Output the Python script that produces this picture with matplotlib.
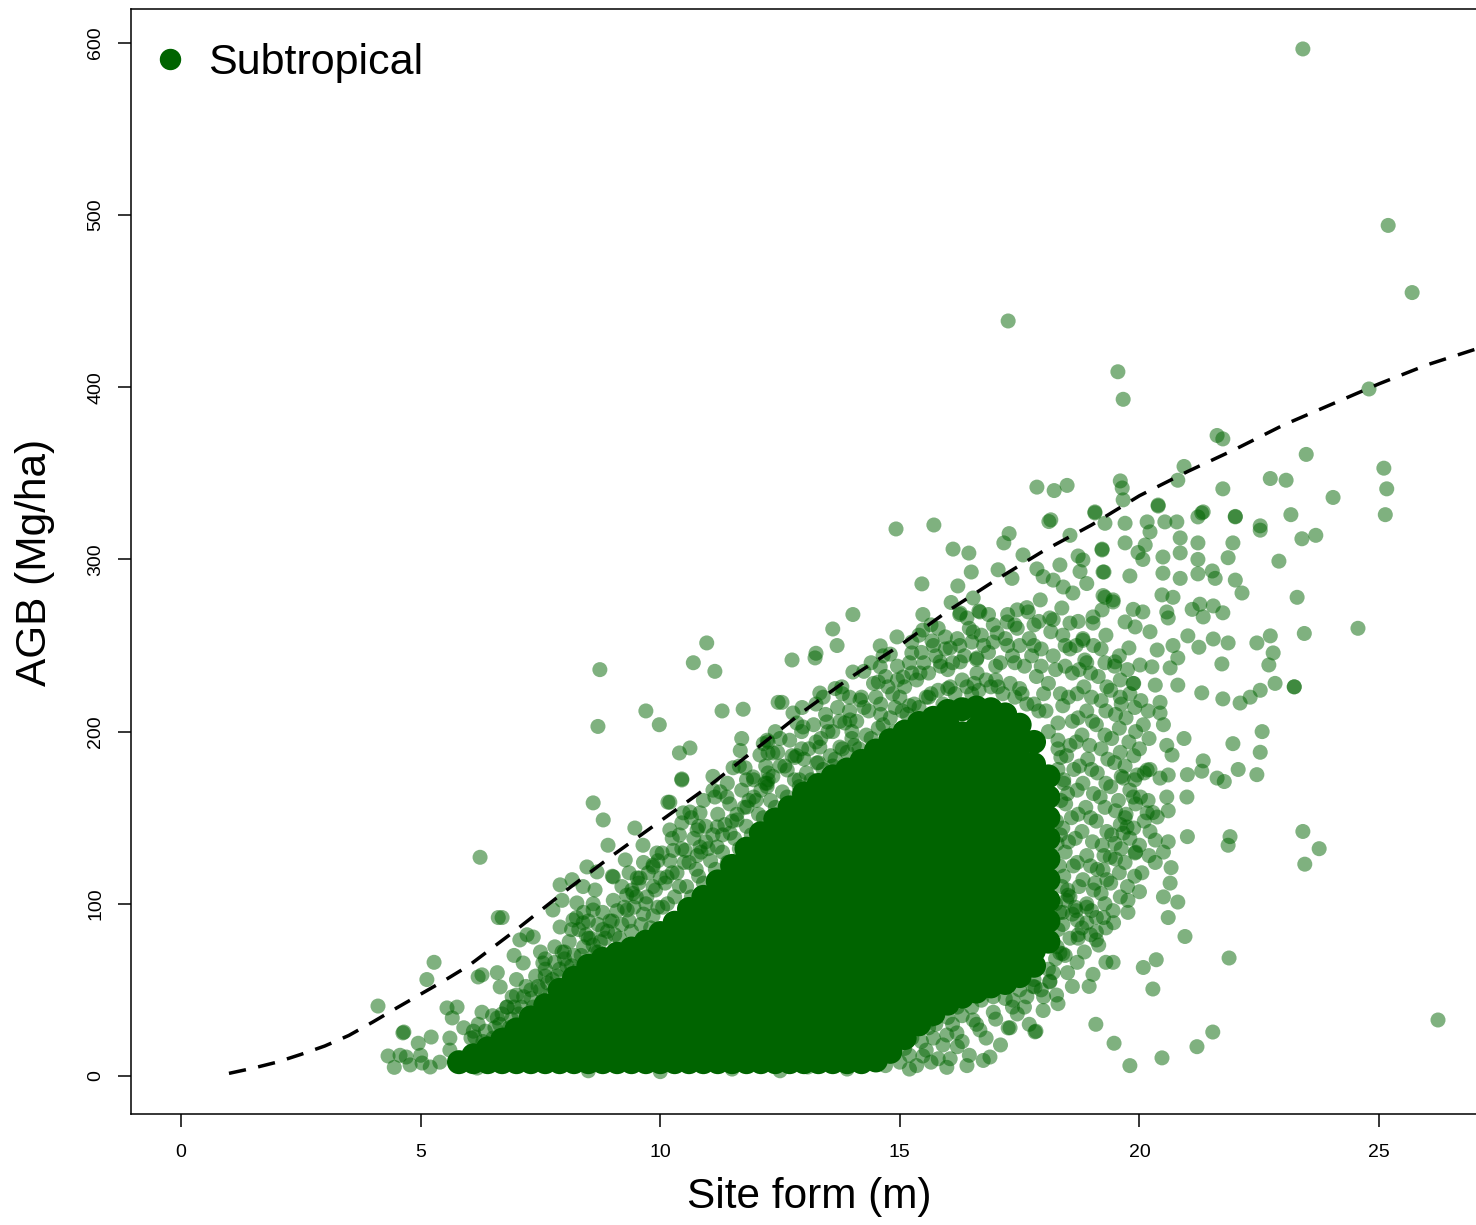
import matplotlib
matplotlib.use("Agg")
import matplotlib.pyplot as plt
from matplotlib.lines import Line2D
import numpy as np

plt.rcParams["font.family"] = ["Liberation Sans", "DejaVu Sans"]

GREEN = "#006400"

# fitted AGB ~ site form curve
fit_x = [1, 1.5, 2, 2.5, 3, 3.5, 4, 4.5, 5, 5.5, 6, 7, 8, 9, 10, 11, 12, 13,
         14, 15, 16, 17, 18, 19, 20, 21, 22, 23, 24, 25, 26, 27]
fit_y = [1.5, 4.5, 8, 12.5, 17.4, 23.5, 31.3, 39.5, 47.5, 55.5, 64, 85, 107,
         128, 148, 168, 190, 212, 232, 250, 270, 288, 305, 320, 337, 351, 364,
         378, 390, 402, 413, 422]

# the packed middle of the cloud, one column of plots per x position
core_cols_x = [5.8, 6.1, 6.4, 6.7, 7.0, 7.3, 7.6, 7.9, 8.2, 8.5, 8.8, 9.1,
               9.4, 9.7, 10.0, 10.3, 10.6, 10.9, 11.2, 11.5, 11.8, 12.1, 12.4,
               12.7, 13.0, 13.3, 13.6, 13.9, 14.2, 14.5, 14.8, 15.1, 15.4,
               15.7, 16.0, 16.3, 16.6, 16.9, 17.2, 17.5, 17.8, 18.1]
core_cols_y = [
    [8],
    [8, 12],
    [8, 16],
    [8, 17, 21],
    [8, 17, 27],
    [8, 17, 26, 34],
    [8, 17, 26, 35, 41],
    [8, 17, 26, 35, 44, 50],
    [8, 17, 26, 35, 44, 53, 57],
    [8, 17, 26, 35, 44, 53, 62, 64],
    [8, 17, 26, 35, 44, 53, 62, 68],
    [8, 17, 26, 35, 44, 53, 62, 71],
    [8, 17, 26, 35, 44, 53, 62, 74],
    [8, 17, 26, 35, 44, 53, 62, 71, 78],
    [8, 17, 26, 35, 44, 53, 62, 71, 83],
    [8, 17, 26, 35, 44, 53, 62, 71, 80, 89],
    [8, 17, 26, 35, 44, 53, 62, 71, 80, 89, 97],
    [8, 17, 26, 35, 44, 53, 62, 71, 80, 89, 98, 104],
    [8, 17, 26, 35, 44, 53, 62, 71, 80, 89, 98, 107, 113],
    [8, 17, 26, 35, 44, 53, 62, 71, 80, 89, 98, 107, 116, 122],
    [8, 17, 26, 35, 44, 53, 62, 71, 80, 89, 98, 107, 116, 125, 132],
    [8, 17, 26, 35, 44, 53, 62, 71, 80, 89, 98, 107, 116, 125, 134, 141],
    [8, 17, 26, 35, 44, 53, 62, 71, 80, 89, 98, 107, 116, 125, 134, 143, 149],
    [8, 17, 26, 35, 44, 53, 62, 71, 80, 89, 98, 107, 116, 125, 134, 143, 152, 156],
    [8, 17, 26, 35, 44, 53, 62, 71, 80, 89, 98, 107, 116, 125, 134, 143, 152, 161, 164],
    [8, 17, 26, 35, 44, 53, 62, 71, 80, 89, 98, 107, 116, 125, 134, 143, 152, 161, 169],
    [8, 17, 26, 35, 44, 53, 62, 71, 80, 89, 98, 107, 116, 125, 134, 143, 152, 161, 170, 174],
    [8, 17, 26, 35, 44, 53, 62, 71, 80, 89, 98, 107, 116, 125, 134, 143, 152, 161, 170, 178],
    [8, 17, 26, 35, 44, 53, 62, 71, 80, 89, 98, 107, 116, 125, 134, 143, 152, 161, 170, 179, 183],
    [9, 18, 27, 36, 45, 54, 63, 72, 81, 90, 99, 108, 117, 126, 135, 144, 153, 162, 171, 180, 189],
    [14, 23, 32, 41, 50, 59, 68, 77, 86, 95, 104, 113, 122, 131, 140, 149, 158, 167, 176, 185, 195],
    [22, 31, 40, 49, 58, 67, 76, 85, 94, 103, 112, 121, 130, 139, 148, 157, 166, 175, 184, 193, 200],
    [30, 39, 48, 57, 66, 75, 84, 93, 102, 111, 120, 129, 138, 147, 156, 165, 174, 183, 192, 205],
    [36, 45, 54, 63, 72, 81, 90, 99, 108, 117, 126, 135, 144, 153, 162, 171, 180, 189, 198, 208],
    [42, 51, 60, 69, 78, 87, 96, 105, 114, 123, 132, 141, 150, 159, 168, 177, 186, 195, 204, 212],
    [46, 55, 64, 73, 82, 91, 100, 109, 118, 127, 136, 145, 154, 163, 172, 181, 190, 199, 213],
    [49, 58, 67, 76, 85, 94, 103, 112, 121, 130, 139, 148, 157, 166, 175, 184, 193, 202, 214],
    [52, 61, 70, 79, 88, 97, 106, 115, 124, 133, 142, 151, 160, 169, 178, 187, 196, 205, 213],
    [54, 63, 72, 81, 90, 99, 108, 117, 126, 135, 144, 153, 162, 171, 180, 189, 198, 210],
    [58, 67, 76, 85, 94, 103, 112, 121, 130, 139, 148, 157, 166, 175, 184, 193, 204],
    [64, 73, 82, 91, 100, 109, 118, 127, 136, 145, 154, 163, 172, 181, 194],
    [78, 90, 102, 114, 126, 138, 150, 162, 174],
]

# crowded band just above the packed middle
halo_pts = [
    (6.05, 22), (6.2, 30), (6.35, 26), (6.5, 35), (6.45, 18), (6.65, 30), (6.8, 40),
    (6.9, 33), (7.0, 47), (6.75, 24),
    (7.1, 40), (7.2, 52), (7.3, 45), (7.4, 58), (7.5, 50), (7.6, 62), (7.65, 54),
    (7.8, 66), (7.85, 58), (7.95, 72), (7.25, 36), (7.7, 47),
    (8.05, 64), (8.1, 78), (8.2, 70), (8.3, 85), (8.4, 75), (8.5, 90), (8.55, 80),
    (8.65, 72), (8.7, 88), (8.8, 95), (8.85, 80), (8.95, 90), (8.25, 92), (8.6, 100),
    (9.05, 82), (9.1, 96), (9.2, 88), (9.3, 105), (9.35, 90), (9.45, 98), (9.55, 112),
    (9.6, 88), (9.7, 100), (9.75, 118), (9.85, 93), (9.9, 108), (9.95, 125), (9.2, 110),
    (10.05, 98), (10.1, 112), (10.2, 125), (10.3, 104), (10.35, 118), (10.45, 132),
    (10.55, 110), (10.6, 124), (10.7, 138), (10.8, 116), (10.85, 130), (10.95, 145),
    (10.25, 138), (10.65, 150),
    (11.05, 125), (11.1, 140), (11.2, 152), (11.3, 130), (11.35, 146), (11.45, 158),
    (11.55, 138), (11.6, 152), (11.7, 166), (11.8, 145), (11.85, 160), (11.95, 172),
    (11.25, 165), (11.65, 180),
    (12.05, 152), (12.1, 166), (12.2, 180), (12.3, 160), (12.35, 174), (12.45, 188),
    (12.55, 165), (12.6, 180), (12.7, 195), (12.8, 172), (12.85, 186), (12.95, 200),
    (12.4, 200), (12.15, 193),
    (13.05, 176), (13.1, 190), (13.2, 204), (13.3, 182), (13.35, 196), (13.45, 210),
    (13.55, 186), (13.6, 200), (13.7, 214), (13.8, 190), (13.85, 205), (13.95, 220),
    (13.25, 216), (13.65, 225),
    (14.05, 192), (14.1, 206), (14.2, 220), (14.3, 198), (14.35, 212), (14.45, 228),
    (14.55, 202), (14.6, 216), (14.7, 232), (14.8, 208), (14.85, 222), (14.95, 238),
    (14.25, 235), (14.65, 244),
    (15.05, 212), (15.1, 226), (15.2, 240), (15.3, 216), (15.35, 230), (15.45, 246),
    (15.55, 220), (15.6, 234), (15.7, 250), (15.8, 224), (15.85, 238), (15.95, 255),
    (15.25, 252), (15.65, 262),
    (16.05, 226), (16.1, 240), (16.2, 254), (16.3, 230), (16.35, 244), (16.45, 260),
    (16.55, 228), (16.6, 242), (16.7, 256), (16.8, 230), (16.85, 246), (16.95, 262),
    (16.25, 268), (16.65, 270),
    (17.05, 226), (17.1, 240), (17.2, 254), (17.3, 228), (17.35, 244), (17.45, 260),
    (17.55, 222), (17.6, 238), (17.7, 254), (17.8, 216), (17.85, 232), (17.95, 248),
    (17.25, 268), (17.65, 272), (17.9, 264),
    (18.05, 212), (18.1, 228), (18.2, 244), (18.3, 205), (18.35, 222), (18.45, 238),
    (18.15, 258), (18.4, 256),
    (18.55, 80), (18.6, 94), (18.5, 108), (18.62, 122), (18.52, 136), (18.58, 150),
    (18.5, 164), (18.63, 178), (18.55, 192), (18.6, 206), (18.52, 220), (18.6, 234),
    (18.55, 248),
    (18.85, 72), (18.8, 86), (18.9, 100), (18.82, 114), (18.9, 128), (18.8, 142),
    (18.88, 156), (18.82, 170), (18.92, 184), (18.8, 198), (18.9, 212), (18.84, 226),
    (18.9, 240), (18.82, 254),
    (19.15, 76), (19.1, 92), (19.2, 106), (19.12, 120), (19.22, 134), (19.1, 148),
    (19.18, 162), (19.12, 176), (19.2, 190), (19.1, 204), (19.2, 218), (19.14, 232),
    (19.2, 248),
    (19.45, 96), (19.4, 112), (19.5, 126), (19.42, 140), (19.5, 154), (19.4, 168),
    (19.48, 182), (19.42, 196), (19.5, 210), (19.4, 224), (19.48, 238),
    (19.75, 110), (19.7, 124), (19.8, 138), (19.72, 152), (19.8, 166), (19.7, 180),
    (19.78, 194), (19.72, 208), (19.8, 222), (19.75, 236),
    (20.05, 118), (20.0, 134), (20.1, 148), (20.02, 162), (20.1, 176), (20.0, 190),
    (20.08, 204), (20.03, 218),
    (14.7, 6), (15.0, 8), (15.2, 12), (15.35, 6), (15.55, 15), (15.7, 22), (15.8, 10),
    (16.1, 30), (16.3, 20), (16.45, 12), (16.6, 30), (16.8, 22), (17.0, 33),
    (17.1, 18), (17.45, 36), (17.6, 40), (17.7, 30), (18.0, 46), (18.2, 60),
    (16.3, 35), (15.9, 18),
]

# second pass over the same band, in between the plots above
halo2_pts = [
    (6.1, 26), (6.3, 20), (6.55, 28), (6.7, 36), (6.85, 28), (6.95, 40),
    (7.05, 36), (7.15, 46), (7.35, 40), (7.45, 52), (7.55, 44), (7.75, 56),
    (7.9, 62), (7.6, 68),
    (8.0, 72), (8.15, 64), (8.35, 70), (8.45, 82), (8.6, 76), (8.75, 78), (8.9, 84),
    (8.4, 95), (8.15, 85),
    (9.0, 90), (9.15, 80), (9.25, 98), (9.4, 84), (9.5, 104), (9.65, 94), (9.8, 86),
    (9.85, 110), (9.95, 98), (9.35, 118), (9.65, 124),
    (10.0, 115), (10.15, 100), (10.25, 118), (10.4, 110), (10.5, 124), (10.65, 104),
    (10.75, 120), (10.9, 112), (10.95, 136), (10.4, 140), (10.8, 145),
    (11.0, 132), (11.15, 120), (11.3, 140), (11.4, 124), (11.5, 148), (11.65, 132),
    (11.75, 156), (11.9, 140), (11.95, 162), (11.4, 170), (11.8, 172),
    (12.0, 160), (12.15, 150), (12.25, 172), (12.4, 156), (12.5, 180), (12.65, 162),
    (12.75, 186), (12.9, 168), (12.95, 190), (12.5, 196), (12.85, 205),
    (13.0, 184), (13.15, 172), (13.25, 194), (13.4, 178), (13.5, 200), (13.65, 184),
    (13.75, 206), (13.9, 188), (13.95, 212), (13.4, 220), (13.8, 222),
    (14.0, 196), (14.15, 190), (14.25, 214), (14.4, 196), (14.5, 220), (14.65, 204),
    (14.75, 226), (14.9, 214), (14.95, 230), (14.4, 240), (14.8, 245),
    (15.0, 220), (15.15, 210), (15.25, 234), (15.4, 214), (15.5, 240), (15.65, 222),
    (15.75, 244), (15.9, 216), (15.95, 248), (15.4, 256), (15.8, 260),
    (16.0, 236), (16.15, 222), (16.25, 250), (16.4, 226), (16.5, 252), (16.65, 224),
    (16.75, 250), (16.9, 226), (16.95, 252), (16.4, 266), (16.85, 268),
    (17.0, 238), (17.15, 222), (17.25, 250), (17.4, 220), (17.5, 250), (17.65, 216),
    (17.75, 244), (17.9, 212), (17.95, 238), (17.4, 262), (17.8, 262),
    (18.0, 222), (18.1, 200), (18.25, 236), (18.3, 190), (18.4, 215), (18.45, 250),
    (18.2, 265),
    (18.45, 70), (18.4, 88), (18.48, 102), (18.42, 116), (18.45, 130), (18.4, 144),
    (18.46, 158), (18.42, 172), (18.48, 186),
    (18.7, 66), (18.72, 80), (18.68, 96), (18.74, 110), (18.7, 124), (18.66, 138),
    (18.72, 152), (18.7, 166), (18.75, 180), (18.68, 194), (18.72, 208), (18.7, 222),
    (18.74, 236), (18.68, 250), (18.72, 264),
    (18.98, 82), (19.0, 96), (19.04, 108), (18.98, 122), (19.02, 136), (18.98, 150),
    (19.04, 164), (19.0, 178), (18.96, 192), (19.02, 206), (19.0, 220), (18.98, 234),
    (19.04, 250),
    (19.3, 86), (19.28, 100), (19.32, 114), (19.26, 128), (19.32, 142), (19.28, 156),
    (19.3, 170), (19.34, 184), (19.28, 198), (19.3, 212), (19.32, 226), (19.28, 240),
    (19.3, 256),
    (19.6, 104), (19.58, 118), (19.62, 132), (19.6, 146), (19.56, 160), (19.62, 174),
    (19.6, 188), (19.58, 202), (19.62, 216), (19.6, 230), (19.58, 244),
    (19.9, 116), (19.92, 130), (19.88, 144), (19.92, 158), (19.9, 172), (19.88, 186),
    (19.92, 200), (19.9, 214), (19.88, 228),
    (20.2, 128), (20.22, 142), (20.18, 160), (20.22, 178), (20.2, 196), (20.18, 212),
    (17.2, 45), (17.5, 50), (17.8, 56), (18.1, 62), (17.35, 40), (17.65, 46),
    (17.95, 50), (18.25, 68), (18.5, 60), (18.6, 52),
    (14.55, 10), (14.8, 12), (15.1, 16), (15.25, 22), (15.45, 20), (15.6, 28),
    (15.75, 30), (16.0, 34), (16.2, 40), (16.5, 40), (16.7, 44), (16.95, 46),
    (15.2, 4), (15.65, 8), (16.4, 6),
    (18.3, 85), (18.38, 110), (18.28, 135), (18.36, 160), (18.3, 178),
    (18.25, 100), (18.33, 122), (18.27, 148), (18.4, 95), (18.35, 140),
    (18.42, 170), (18.3, 195), (18.28, 75), (18.36, 185),
]

# plots around the dense part, left side
left_pts = [
    (4.11, 40.6), (5.28, 66), (5.13, 56), (4.63, 25), (4.65, 25.5), (4.32, 11.6),
    (4.57, 12), (4.45, 5), (4.78, 6.4), (4.95, 19), (5.03, 7.5), (5.22, 22.6),
    (5.55, 39.5), (5.66, 33.7), (5.76, 40), (5.61, 22), (6.2, 57.5), (6.28, 58.7),
    (6.6, 60), (6.66, 51.7), (7.14, 65.6), (7.55, 65.6), (6.91, 46), (6.28, 37),
    (6.6, 33.7), (5.2, 5.2), (5.4, 8), (5.61, 15), (5.82, 7.5), (6.18, 4.6),
    (6.3, 15), (6.13, 22.6), (6.51, 22), (6.62, 92), (6.7, 92), (7.35, 80.7),
    (7.07, 79), (7.91, 111), (8.16, 114), (8.39, 110), (8.68, 118.5), (8.47, 121.4),
    (8.91, 134), (8.81, 148.7), (8.6, 158.6), (7.76, 96.4), (7.95, 102), (8.26, 100.5),
    (8.6, 96.4), (8.18, 90.6), (8.39, 88.9), (7.91, 86.5), (7.22, 82), (7.5, 72),
    (7.8, 75), (8.0, 68), (8.5, 80), (8.8, 85), (8.3, 62), (7.0, 56), (7.3, 50),
    (6.8, 40), (8.7, 72), (5.9, 28), (4.7, 11), (5.0, 12), (6.95, 70), (7.6, 58),
]

# upper edge of the cloud, middle
mid_pts = [
    (9.02, 115.6), (9.27, 125.5), (9.52, 115), (9.47, 144), (9.02, 102), (9.43, 106),
    (9.31, 96.4), (9.72, 104), (9.85, 121.4), (10.14, 115.6), (9.93, 129.5),
    (10.27, 131), (10.77, 128), (10.52, 131), (10.2, 142.9), (10.77, 142.9),
    (10.45, 147), (10.2, 159), (10.48, 152.8), (10.62, 153.3), (10.9, 160),
    (11.14, 162), (10.45, 171.9), (11.1, 174), (11.52, 179), (11.77, 179),
    (11.7, 196), (11.67, 189), (12.25, 194), (12.25, 187.6), (12.08, 186.4),
    (11.94, 173.7), (12.23, 170), (11.1, 166), (10.83, 152.8), (11.19, 144.6),
    (11.46, 141), (11.19, 133), (11.6, 148.7), (11.81, 156.2), (12.23, 168),
    (11.39, 162), (10.83, 133), (11.73, 129.5), (12.08, 141), (10.62, 190.5),
    (10.4, 187.6), (10.45, 172.5), (10.16, 159), (11.29, 212), (11.73, 213),
    (12.46, 217), (9.64, 134), (10.04, 129.5), (9.85, 122.5), (9.41, 108),
    (9.58, 115), (9.0, 116), (8.64, 108),
    (14.92, 317.7), (15.71, 320), (17.86, 342), (18.22, 340), (18.49, 343),
    (18.11, 322), (18.15, 323), (17.28, 315), (17.17, 309.6), (16.11, 306),
    (16.44, 303.7), (16.49, 292.7), (17.05, 294), (17.57, 302.6), (18.55, 314),
    (18.72, 302), (15.46, 285.8), (16.21, 284.6), (17.34, 289), (17.86, 294.5),
    (18.34, 296.8), (17.99, 290), (14.02, 268), (13.6, 259.6), (13.69, 250),
    (12.75, 241.6), (13.23, 242.8), (13.25, 245.5), (15.48, 268), (16.07, 275),
    (16.26, 268.9), (16.53, 277.6), (16.67, 269.5), (17.24, 263.7), (17.45, 270.7),
    (17.68, 269.5), (17.93, 276.5), (18.2, 288), (18.41, 284), (18.61, 280.5),
    (18.76, 293), (18.38, 271.8), (18.13, 266), (18.55, 263), (14.59, 249.8),
    (14.94, 255), (15.25, 245.7), (15.67, 252.7), (16.05, 248.6), (15.48, 259),
    (16.53, 257.9), (17.03, 257.3), (15.84, 240.5), (16.26, 240.5), (16.61, 242.8),
    (16.61, 234), (15.42, 234), (15.07, 231.7), (14.59, 237.6), (14.55, 228.8),
    (14.02, 234.6), (13.79, 226), (14.17, 218.4), (13.33, 222.4), (12.96, 214),
    (12.77, 210.8), (13.48, 205.6), (13.96, 206.8), (12.98, 202.7), (12.54, 217),
    (12.23, 195), (12.35, 187.6), (12.81, 185), (13.27, 181.8), (13.33, 191),
    (13.75, 191), (13.6, 180), (14.0, 200), (12.25, 176), (12.65, 177.7),
    (12.19, 170), (12.9, 172), (13.1, 165), (14.6, 210), (14.9, 200), (15.2, 215),
    (15.6, 220), (16.0, 225), (16.5, 222), (17.0, 230), (17.4, 240), (17.8, 250),
    (17.5, 225), (16.9, 215), (15.9, 210),
]

# right side of the cloud
right_pts = [
    (19.07, 327), (19.28, 321), (19.7, 321), (19.64, 341.5), (19.66, 334.6),
    (20.39, 331.6), (20.16, 321.8), (20.22, 316), (20.53, 321.8), (20.78, 321.8),
    (21.22, 324.7), (21.33, 327.6), (22.0, 324.7), (22.52, 319.5), (19.22, 306),
    (19.7, 309.6), (19.97, 304), (20.12, 308.4), (20.07, 300), (20.49, 301.4),
    (20.85, 312.5), (20.85, 303.8), (21.22, 309.6), (21.22, 300), (21.95, 309.6),
    (21.85, 301), (19.24, 292.7), (19.8, 290.4), (20.49, 292), (20.85, 289),
    (21.22, 291.6), (21.52, 293.3), (21.58, 289), (22.0, 288), (22.14, 280.5),
    (19.28, 278), (19.45, 275.3), (20.47, 279.4), (20.7, 278), (19.87, 271),
    (20.07, 269.5), (20.57, 269.5), (20.6, 266), (21.1, 271), (21.26, 274),
    (21.54, 273), (21.74, 269), (21.33, 266.6), (19.7, 263.7), (19.91, 260.8),
    (20.22, 258), (21.01, 255.6), (21.54, 253.8), (21.85, 251.5), (22.45, 251.5),
    (22.73, 255.6), (19.78, 248.6), (20.37, 247.4), (20.7, 250), (20.8, 242.8),
    (21.24, 249), (22.79, 245.7), (19.49, 240.5), (20.01, 238.7), (20.26, 237.6),
    (20.64, 237), (21.72, 239.3), (22.7, 238.7), (19.87, 228), (20.33, 227),
    (20.8, 227), (22.83, 228), (23.23, 226), (21.3, 222.5), (21.74, 219),
    (22.52, 224), (22.31, 220), (22.1, 216.6), (19.6, 220), (20.43, 217),
    (18.86, 241.6), (18.82, 253), (19.03, 263), (19.22, 270.7), (18.9, 286),
    (18.82, 299.7), (19.03, 266.6), (19.24, 279), (19.45, 276.5), (19.26, 292.7),
    (19.22, 305.5), (19.07, 327.6),
    (20.93, 196), (21.95, 193), (22.56, 200), (22.52, 188), (22.45, 175),
    (22.06, 178), (21.77, 171), (21.62, 173), (21.33, 183), (21.3, 177),
    (21.0, 175), (20.99, 162), (20.57, 162), (20.6, 154), (21.0, 139),
    (21.89, 139), (21.85, 134), (20.95, 81), (21.87, 68.5), (20.28, 50.5),
    (19.09, 30), (19.47, 19), (19.8, 6), (20.47, 10.5), (21.2, 17), (21.53, 25.5),
    (17.84, 26), (18.95, 52), (19.03, 59), (19.3, 66), (19.45, 66), (20.08, 63),
    (20.35, 67.5), (18.13, 55), (17.78, 52), (18.27, 47), (18.72, 82), (19.1, 79),
    (19.46, 89), (20.0, 107), (19.76, 102), (19.76, 95), (20.5, 104), (20.6, 92),
    (20.8, 101), (20.64, 112), (20.66, 121), (20.33, 124), (20.33, 137),
    (20.6, 136), (20.5, 130), (20.28, 153), (19.7, 150), (19.1, 83.6), (18.9, 89),
    (19.25, 92), (18.4, 71), (18.55, 104), (18.34, 95), (18.66, 98), (17.78, 84),
    (20.43, 210.8), (20.5, 204), (20.57, 192), (20.68, 186.4), (20.43, 173),
    (20.6, 174.8), (20.16, 177.7), (19.95, 174.8), (19.66, 173), (19.87, 162),
    (20.16, 152.8), (20.37, 150.4), (19.74, 144.6), (19.91, 129.5), (19.66, 141),
    (19.49, 135), (19.39, 127), (19.24, 119.6), (19.07, 112), (18.9, 98),
    (18.7, 90.6), (18.51, 105),
]

# low values along the bottom on the right
bottom_pts = [
    (15.48, 11.6), (15.98, 5), (16.05, 10), (16.74, 9), (16.88, 11), (17.3, 28),
    (17.82, 25.6), (16.2, 17), (18.13, 54.6), (18.3, 42), (17.82, 51.7),
    (17.99, 38), (17.26, 27.9), (18.34, 71.4), (17.87, 71), (17.36, 44),
    (16.95, 37), (16.67, 26.7), (16.53, 32.5), (16.19, 25), (15.98, 23.8),
    (15.63, 32.5), (15.42, 28.5), (15.07, 22.6), (14.86, 15), (14.65, 13.4),
    (14.21, 7.5), (13.08, 5.2), (13.48, 9.3), (13.9, 4), (12.5, 3), (11.5, 4),
    (10.0, 2.5), (8.5, 3),
]

# isolated plots far from the cloud
outlier_pts = [
    (23.41, 596.5), (25.19, 494), (25.69, 455), (17.26, 438.5), (19.55, 409),
    (19.66, 393), (24.79, 399), (25.1, 353), (25.16, 341), (25.13, 326),
    (23.48, 361), (24.04, 336), (24.56, 260), (26.23, 32.5), (23.41, 142),
    (23.45, 123), (23.75, 132), (23.68, 314), (23.39, 312), (23.29, 278),
    (23.44, 257), (23.23, 226), (23.06, 346), (22.73, 347), (22.91, 299),
    (23.16, 326), (22.52, 317), (21.74, 341), (22.0, 325), (21.62, 372),
    (21.74, 370), (20.93, 354), (20.8, 346), (19.6, 345.6), (20.39, 331),
    (21.3, 327), (6.24, 127), (8.74, 236), (8.7, 203), (10.69, 240),
    (10.97, 251.5), (11.14, 235), (9.7, 212), (9.98, 204),
]


def unzip(pts):
    xs, ys = zip(*pts)
    return np.array(xs), np.array(ys)


fig = plt.figure(figsize=(14.76, 12.25), dpi=100)
ax = fig.add_axes([131.2 / 1476, 111 / 1225, 1348.5 / 1476, 1105 / 1225])

# packed core, drawn opaque
cx = np.concatenate([[x] * len(ys) for x, ys in zip(core_cols_x, core_cols_y)])
cy = np.concatenate([ys for ys in core_cols_y])
ax.scatter(cx, cy, s=298, color=GREEN, edgecolors="none", alpha=1.0, zorder=2)

for pts in (halo_pts, halo2_pts, left_pts, mid_pts, right_pts, bottom_pts,
            outlier_pts):
    px, py = unzip(pts)
    ax.scatter(px, py, s=117, color=GREEN, edgecolors="none", alpha=0.5, zorder=3)

ax.plot(fit_x, fit_y, color="black", lw=2.5, linestyle=(0, (5.0, 3.6)), zorder=4)

ax.set_xlim(-1.04, 27.1)
ax.set_ylim(-22.1, 619.7)
ax.set_xticks([0, 5, 10, 15, 20, 25])
ax.set_yticks([0, 100, 200, 300, 400, 500, 600])

for side in ("top", "left", "bottom"):
    ax.spines[side].set_linewidth(1.1)
ax.spines["right"].set_visible(False)

ax.tick_params(axis="both", direction="out", length=9.4, width=1.1,
               labelsize=14)
ax.tick_params(axis="x", pad=12)
ax.tick_params(axis="y", pad=10)
for lbl in ax.get_yticklabels():
    lbl.set_rotation(90)
    lbl.set_va("center")

ax.set_xlabel("Site form (m)", fontsize=30.5, va="center")
ax.xaxis.set_label_coords(0.503, -0.0751)
ax.set_ylabel("AGB (Mg/ha)", fontsize=30.5, va="center")
ax.yaxis.set_label_coords(-0.0713, 0.4995)

handle = Line2D([], [], marker="o", linestyle="none", color=GREEN,
                markersize=14.4)
ax.legend([handle], ["Subtropical"], loc="upper left", frameon=False,
          fontsize=31, handlelength=1.0, handletextpad=0.38, borderpad=0,
          borderaxespad=0, bbox_to_anchor=(0.0128, 0.9692))

fig.savefig("out.png", dpi=100)
